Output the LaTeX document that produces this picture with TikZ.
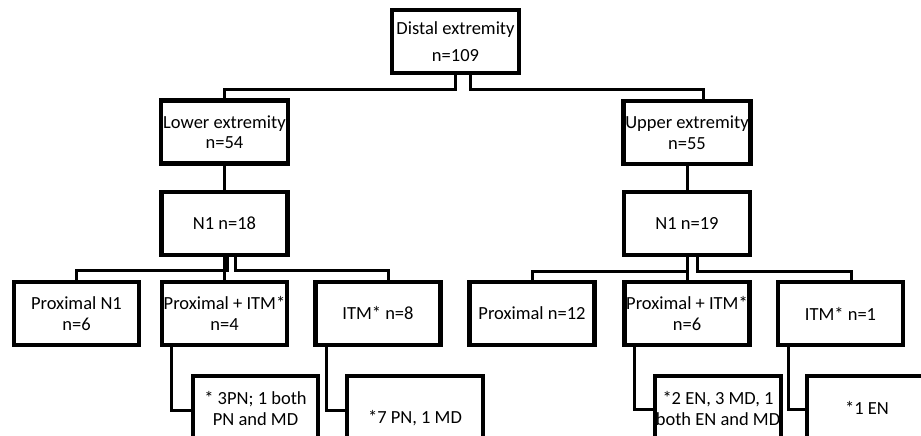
\documentclass[tikz,border=0pt]{standalone}
\usepackage{fontspec}
\setmainfont{Carlito}

\begin{document}
\begin{tikzpicture}[x=1bp,y=-1bp,
    box/.style={draw, line width=4.5bp, minimum width=125bp, minimum height=63bp,
        inner sep=0pt, align=center, font=\fontsize{18.5bp}{20.5bp}\selectfont},
    link/.style={line width=3bp}]
                \useasboundingbox (0,0) rectangle (921,436);
                \clip (0,0) rectangle (921,436);
                % top levels
                \node[box, minimum width=127bp] (dist) at (455.5,41.5) {Distal extremity\\[7bp]n=109};
                \node[box, minimum width=127bp] (lower) at (224.5,132) {Lower extremity\\n=54};
                \node[box, minimum width=127bp] (upper) at (687,132.5) {Upper extremity\\n=55};
                \node[box, minimum width=126bp] (n1l) at (224.5,223.5) {N1 n=18};
                \node[box, minimum width=126bp] (n1u) at (687,223.5) {N1 n=19};
                % third row
                \foreach \nm/\x/\txt in {pn1/76.5/{Proximal N1\\n=6}, pitl/224.5/{Proximal + ITM*\\n=4},
                    itml/378/{ITM* n=8}, prox/532/{Proximal n=12}, pitu/687/{Proximal + ITM*\\n=6},
                    itmu/840.5/{ITM* n=1}}{
                    \node[box] (\nm) at (\x,313.5) {\txt};
                }
                % fourth row
                \node[box, anchor=north, minimum height=64bp] (sub1) at (255.5,374) {* 3PN; 1 both\\PN and MD};
                \node[box, anchor=north, minimum width=136bp, minimum height=84bp] (sub2) at (415,374) {*7 PN, 1 MD};
                \node[box, anchor=north, minimum width=126bp, minimum height=64bp] (sub3) at (718,374) {*2 EN, 3 MD, 1\\both EN and MD};
                \node[box, anchor=north, minimum width=120bp, minimum height=64bp] (sub4) at (867,374) {*1 EN};
                % connectors
                \draw[link] ([xshift=-0.5bp]dist.south) -- ++(0,14) -| (lower.north);
                \draw[link] ([xshift=14.5bp]dist.south) -- ++(0,14) -| ([xshift=16bp]upper.north);
                \draw[link] (lower) -- (n1l);
                \draw[link] (upper) -- (n1u);
                \draw[link] ([xshift=2.5bp]n1l.south) -- ++(0,13) -| (pn1.north);
                \draw[link] (n1l) -- (pitl);
                \draw[link] ([xshift=10.5bp]n1l.south) -- ++(0,13) -| ([xshift=10bp]itml.north);
                \draw[link] (n1u.south) -- ++(0,14) -| (prox.north);
                \draw[link] (n1u) -- (pitu);
                \draw[link] ([xshift=10bp]n1u.south) -- ++(0,14) -| ([xshift=10.5bp]itmu.north);
                \draw[link] ([xshift=12bp]pitl.south west) |- ([yshift=-2bp]sub1.west);
                \draw[link] ([xshift=13bp]itml.south west) |- ([yshift=8bp]sub2.west);
                \draw[link] ([xshift=12bp]pitu.south west) |- ([yshift=-1bp]sub3.west);
                \draw[link] ([xshift=12.5bp]itmu.south west) |- ([yshift=-1bp]sub4.west);
            \end{tikzpicture}
\end{document}
